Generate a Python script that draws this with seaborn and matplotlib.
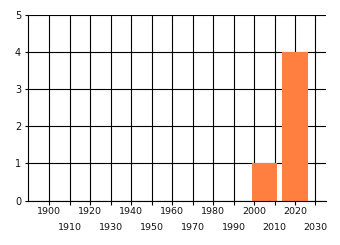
import matplotlib
matplotlib.use("Agg")
import matplotlib.pyplot as plt
import seaborn as sns
import pandas as pd
import numpy as np

# Data
bin_centers = [2005, 2020]
counts = [1, 4]
major_years = [1900, 1920, 1940, 1960, 1980, 2000, 2020]
minor_years = [1910, 1930, 1950, 1970, 1990, 2010, 2030]
y_ticks = [0, 1, 2, 3, 4, 5]

sns.set_theme(style="white")
plt.rcParams['font.family'] = ['DejaVu Sans']

df = pd.DataFrame({"year": bin_centers, "count": counts})

fig = plt.figure(figsize=(3.4, 2.45), dpi=100)
ax = fig.add_axes([28/340, (245-200.5)/245, (325.7-28)/340, (200.5-15)/245])

ax.bar(df["year"], df["count"], width=12.4, color="#ff7f40", zorder=3, linewidth=0)

ax.set_xlim(1889.6, 2035)
ax.set_ylim(0, 5)

ax.set_xticks(major_years)
ax.set_xticklabels([str(y) for y in major_years])
ax.set_xticks(minor_years, minor=True)
ax.set_xticklabels([str(y) for y in minor_years], minor=True)
ax.set_yticks(y_ticks)
ax.set_yticklabels([str(v) for v in y_ticks])

ax.tick_params(axis="x", which="major", length=3, width=0.8, color="black",
               pad=2, labelsize=6.8, labelcolor="#111111", bottom=True)
ax.tick_params(axis="x", which="minor", length=3, width=0.8, color="black",
               pad=13, labelsize=6.8, labelcolor="#111111", bottom=True)
ax.tick_params(axis="y", length=2, width=0.8, color="black", pad=3,
               labelsize=7, labelcolor="#111111", left=True)

ax.grid(True, which="both", axis="x", color="black", linewidth=0.8, zorder=1)
ax.grid(True, which="major", axis="y", color="black", linewidth=0.8, zorder=1)
ax.set_axisbelow(True)

for s in ["top", "right"]:
    ax.spines[s].set_visible(False)
for s in ["left", "bottom"]:
    ax.spines[s].set_color("black")
    ax.spines[s].set_linewidth(0.8)
    ax.spines[s].set_zorder(4)

ax.set_xlabel("")
ax.set_ylabel("")

fig.savefig("out.png", dpi=100)
